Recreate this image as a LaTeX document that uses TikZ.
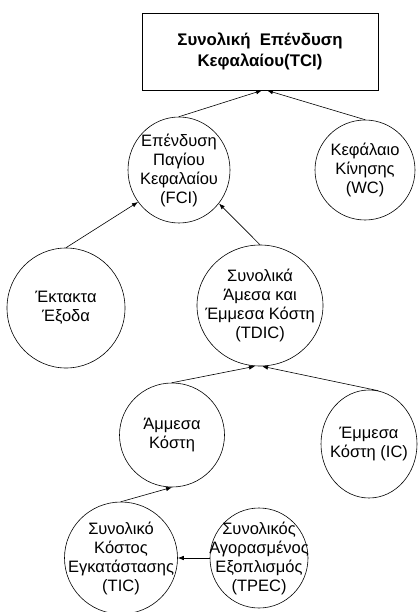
\documentclass[tikz,border=0pt]{standalone}
\usepackage{fontspec}
\setmainfont{Liberation Sans}
\usetikzlibrary{shapes.geometric,arrows.meta}

\begin{document}
\begin{tikzpicture}[x=1pt,y=-1pt,
  txt/.style={font=\fontsize{16.5}{19}\selectfont, align=center, inner sep=0pt},
  topbox/.style={draw, line width=0.8pt, rectangle, minimum width=236pt, minimum height=77pt,
    align=center, inner sep=0pt, font=\bfseries\fontsize{16.8}{21}\selectfont},
  item/.style={draw, line width=0.6pt, ellipse, inner sep=0pt},
  link/.style={line width=0.6pt, -{Latex[length=6pt,width=4.5pt]}}
]
\useasboundingbox (0,0) rectangle (417,612);

% outlines of the cost items (fixed size, text set separately)
\node[topbox] (tci) at (260,51.5) {Συνολική\ \ Επένδυση\\Κεφαλαίου(TCI)};
\node[item, minimum width=102pt, minimum height=106pt] (fci) at (179,170) {};
\node[item, minimum width=100pt, minimum height=100pt] (wc) at (365,170) {};
\node[item, minimum width=118pt, minimum height=120pt] (ek) at (66,308) {};
\node[item, minimum width=126pt, minimum height=121pt] (tdic) at (260,305.5) {};
\node[item, minimum width=105pt, minimum height=104pt] (dc) at (172,435) {};
\node[item, minimum width=96pt, minimum height=108pt] (ic) at (369,444) {};
\node[item, minimum width=113pt, minimum height=112pt] (tic) at (121,558) {};
\node[item, minimum width=98pt, minimum height=100pt] (tpec) at (259,558) {};

% labels
\node[txt] (fcitxt) at (fci) {Επένδυση\\Παγίου\\Κεφαλαίου\\(FCI)};
\node[txt] (wctxt) at (wc) {Κεφάλαιο\\Κίνησης\\(WC)};
\node[txt] (ektxt) at (ek) {Έκτακτα\\Έξοδα};
\node[txt] (tdictxt) at (tdic) {Συνολικά\\Άμεσα και\\Έμμεσα Κόστη\\(TDIC)};
\node[txt] (dctxt) at (dc) {Άμμεσα\\Κόστη};
\node[txt] (ictxt) at (ic) {Έμμεσα\\Κόστη (IC)};
\node[txt] (tictxt) at (tic) {Συνολικό\\Κόστος\\Εγκατάστασης\\(TIC)};
\node[txt] (tpectxt) at (tpec) {Συνολικός\\Αγορασμένος\\Εξοπλισμός\\(TPEC)};

% connectors
\draw[link] (fci.north) -- ([xshift=2pt]tci.south);
\draw[link] (wc.north) -- ([xshift=7pt]tci.south);
\draw[link] (ek.north) -- (fci.218);
\draw[link] (tdic.north) -- (fci.320);
\draw[link] (dc.north) -- ([xshift=-5pt]tdic.south);
\draw[link] (ic.80) -- ([xshift=2pt]tdic.south);
\draw[link] (tic.north) -- (dc.south);
\draw[link] (tpec.west) -- (tic.east);
\end{tikzpicture}
\end{document}
